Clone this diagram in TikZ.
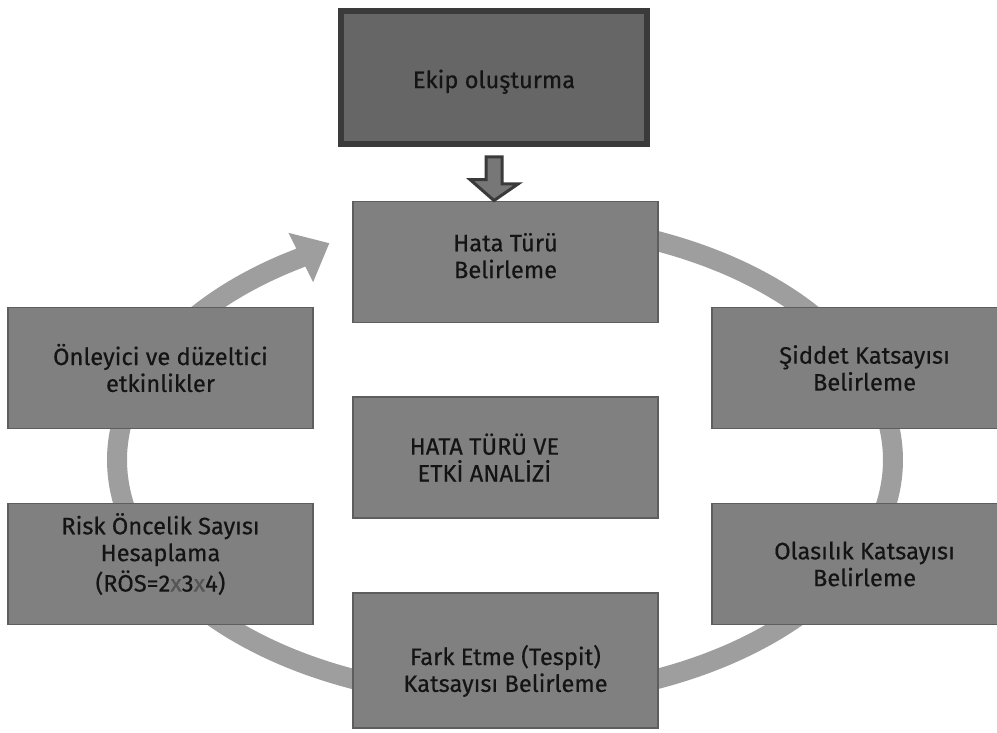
\documentclass[tikz,border=0pt]{standalone}
\usepackage{fontspec}
\setmainfont{Fira Sans}[FakeBold=0.4]
\usepackage{tikz}
\usetikzlibrary{calc,arrows.meta}

\definecolor{boxfill}{HTML}{808080}
\definecolor{boxline}{HTML}{5E5E5E}
\definecolor{topfill}{HTML}{666666}
\definecolor{topline}{HTML}{3A3A3A}
\definecolor{ringgray}{HTML}{9E9E9E}
\definecolor{arrowfill}{HTML}{777777}
\definecolor{txt}{HTML}{141414}
\definecolor{xgray}{HTML}{555555}

\begin{document}
\begin{tikzpicture}[x=0.02cm,y=-0.02cm,
    font=\fontsize{13.5}{15.3}\selectfont,
    box/.style={draw=boxline,fill=boxfill,line width=1.1pt,text=txt,align=center,
                minimum width=6.1cm,minimum height=2.42cm,inner sep=0pt},
    topbox/.style={box,draw=topline,fill=topfill,line width=3.4pt,
                minimum width=6.12cm,minimum height=2.66cm},
    ring/.style={draw=ringgray,line width=0.4cm},
    blockarrow/.style={draw=topline,fill=arrowfill,line width=1.7pt,line join=miter}]
                \clip (0,0) rectangle (997,733);
                \fill[white] (0,0) rectangle (997,733);

                % the cycle behind the boxes
                \draw[ring,-{Triangle[length=0.64cm,width=1.06cm]}]
                    plot[domain=95:-238,samples=120,smooth] ({505+388*cos(\x)},{460-238*sin(\x)})
                    -- ++(30,-15);

                \node[topbox] (ekip) at (494,77.5) {\mbox{}\\[0pt]Ekip oluşturma};

                \node[box] (hata) at (505.5,262) {Hata Türü\\Belirleme\\[-8pt]~};
                \node[box] (siddet) at (864.5,368) {Şiddet Katsayısı\\Belirleme};
                \node[box] (olasilik) at (864.5,564) {Olasılık Katsayısı\\Belirleme};
                \node[box,minimum height=2.7cm] (fark) at (505.5,660.5) {\mbox{}\\[8pt]Fark Etme (Tespit)\\Katsayısı Belirleme};
                \node[box] (risk) at (160.5,564) {Risk Öncelik Sayısı\\Hesaplama\\[2pt](RÖS=2{\color{xgray}x}3{\color{xgray}x}4)\\[-2pt]~};
                \node[box] (onleyici) at (160.5,368) {Önleyici ve düzeltici\\etkinlikler};
                \node[box] (analiz) at (505.5,457.5) {HATA TÜRÜ VE\hspace*{24pt}\\ETKİ ANALİZİ\hspace*{24pt}};

                \draw[blockarrow] ($(ekip.south)+(-8,10)$) -- ++(16,0) -- ++(0,27) -- ++(16,0)
                    -- ($(ekip.south |- hata.north)$) -- ++(-24,-21) -- ++(16,0) -- cycle;
\end{tikzpicture}
\end{document}
